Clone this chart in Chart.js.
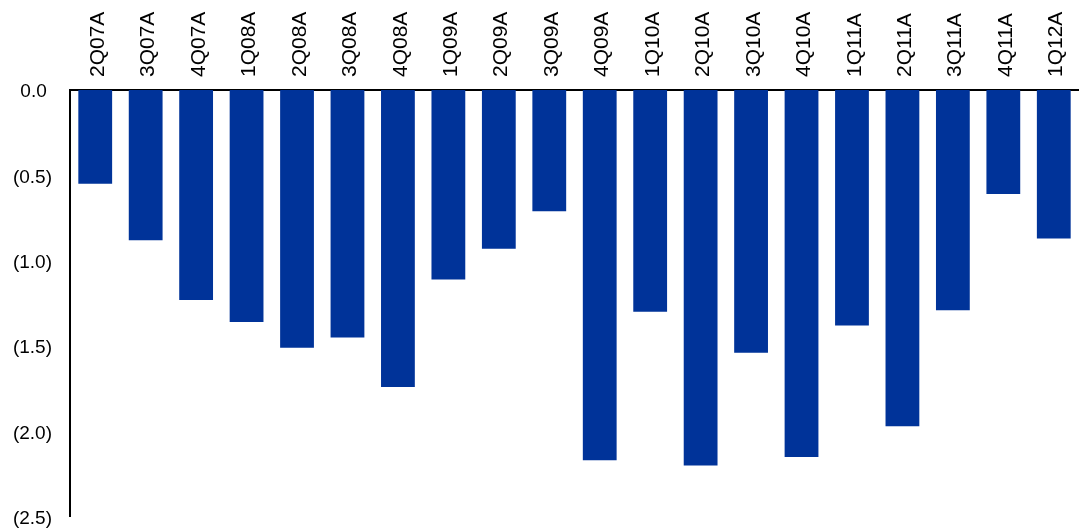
<!DOCTYPE html>
<html>
<head>
<meta charset="utf-8">
<script src="https://cdn.jsdelivr.net/npm/chart.js@4/dist/chart.umd.min.js"></script>
<style>
  html, body { margin: 0; padding: 0; background: #ffffff; }
  #wrap { width: 1079px; height: 528px; }
</style>
</head>
<body>
<div id="wrap"><canvas id="chart"></canvas></div>
<script>
// Quarterly results, plotted as losses below zero
const quarters = ['2Q07A', '3Q07A', '4Q07A', '1Q08A', '2Q08A', '3Q08A', '4Q08A', '1Q09A', '2Q09A', '3Q09A',
                  '4Q09A', '1Q10A', '2Q10A', '3Q10A', '4Q10A', '1Q11A', '2Q11A', '3Q11A', '4Q11A', '1Q12A'];
const values = [-0.55, -0.88, -1.23, -1.36, -1.51, -1.45, -1.74, -1.11, -0.93, -0.71,
                -2.17, -1.30, -2.20, -1.54, -2.15, -1.38, -1.97, -1.29, -0.61, -0.87];
const yTicks = [0, -0.5, -1.0, -1.5, -2.0, -2.5];

const fontFamily = '"Liberation Sans", Arial, Helvetica, sans-serif';

// Negative values shown in accounting parentheses; zero padded to line up
function fmt(v) {
  const a = Math.abs(v).toFixed(1);
  return v < 0 ? '(' + a + ')' : a + ' ';
}

new Chart(document.getElementById('chart'), {
  type: 'bar',
  data: {
    labels: quarters,
    datasets: [{
      data: values,
      backgroundColor: '#003399',
      borderWidth: 0,
      categoryPercentage: 1.0,
      barPercentage: 0.67
    }]
  },
  options: {
    responsive: true,
    maintainAspectRatio: false,
    animation: false,
    layout: { padding: { top: 0, right: 0, bottom: 0, left: 0 } },
    plugins: { legend: { display: false }, tooltip: { enabled: false } },
    scales: {
      x: {
        position: 'top',
        grid: { display: false, drawTicks: false },
        border: { display: true, color: '#000000', width: 2 },
        ticks: {
          color: '#000000',
          font: { family: fontFamily, size: 21 },
          maxRotation: 90,
          minRotation: 90,
          autoSkip: false,
          padding: 13,
          labelOffset: 28
        },
        afterFit: (scale) => { scale.height = 90; }
      },
      y: {
        min: -2.5,
        max: 0,
        afterBuildTicks: (scale) => { scale.ticks = yTicks.map(v => ({ value: v })); },
        grid: { display: false, drawTicks: true, tickLength: 18 },
        border: { display: true, color: '#000000', width: 2 },
        ticks: {
          color: '#000000',
          font: { family: fontFamily, size: 19 },
          padding: 0,
          labelOffset: 2,
          callback: (v) => fmt(v)
        },
        afterFit: (scale) => { scale.width = 70; }
      }
    }
  }
});
</script>
</body>
</html>
